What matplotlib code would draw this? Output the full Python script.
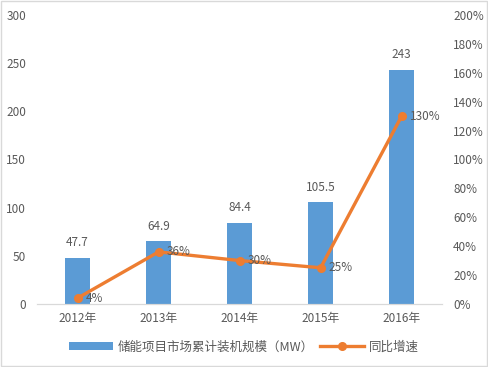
import matplotlib.pyplot as plt
from matplotlib.patches import Rectangle

plt.rcParams['font.family'] = ['Noto Sans CJK SC', 'DejaVu Sans']

years = ['2012年', '2013年', '2014年', '2015年', '2016年']
capacity = [47.7, 64.9, 84.4, 105.5, 243]
growth = [4, 36, 30, 25, 130]
growth_labels = ['4%', '36%', '30%', '25%', '130%']

bar_color = '#5B9BD5'
line_color = '#ED7D31'
text_color = '#595959'

fig = plt.figure(figsize=(4.88, 3.67), dpi=100)
ax = fig.add_axes([0.076, 0.172, 0.83, 0.787])
ax2 = ax.twinx()

x = range(len(years))
bars = ax.bar(x, capacity, width=0.31, color=bar_color, zorder=2,
              label='储能项目市场累计装机规模（MW）')
ax.set_ylim(0, 300)
ax.set_xlim(-0.5, len(years) - 0.5)
ax.set_yticks(range(0, 301, 50))
ax.set_xticks(list(x))
ax.set_xticklabels(years)

for i, v in enumerate(capacity):
    ax.text(i, v + 9, f"{v:g}", ha='center', va='bottom', fontsize=8.5, color=text_color)

ax2.plot(x, growth, color=line_color, linewidth=2.4, marker='o', markersize=5.5,
         zorder=3, label='同比增速')
ax2.set_ylim(0, 200)
ax2.set_yticks(range(0, 201, 20))
ax2.set_yticklabels([f"{t}%" for t in range(0, 201, 20)])
for i, v in enumerate(growth):
    ax2.text(i + 0.1, v, growth_labels[i], ha='left', va='center', fontsize=8.5, color=text_color)

for a in (ax, ax2):
    for s in ['top', 'left', 'right']:
        a.spines[s].set_visible(False)
    a.spines['bottom'].set_color('#D9D9D9')
    a.tick_params(length=0, colors=text_color, labelsize=8.5)
ax.tick_params(axis='x', pad=6)
ax.tick_params(axis='y', pad=8)
ax2.tick_params(axis='y', pad=8)

h1, l1 = ax.get_legend_handles_labels()
h2, l2 = ax2.get_legend_handles_labels()
fig.legend(h1 + h2, l1 + l2, loc='center', bbox_to_anchor=(0.5, 0.055), ncol=2,
           frameon=False, fontsize=9, labelcolor=text_color, handlelength=3.5,
           columnspacing=0.5, handletextpad=0.4)

fig.patches.append(Rectangle((0.002, 0.003), 0.995, 0.994, transform=fig.transFigure,
                             fill=False, edgecolor='#D9D9D9', linewidth=1))

fig.savefig('out.png', dpi=100)
